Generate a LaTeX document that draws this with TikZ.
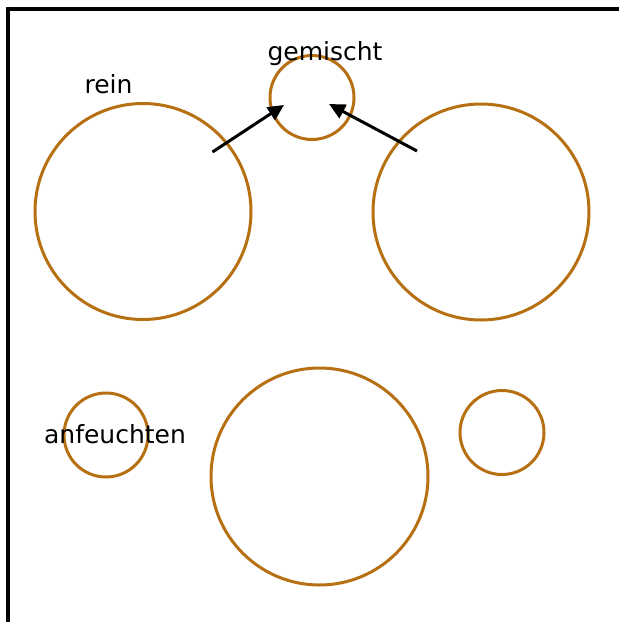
\documentclass[tikz,border=0pt]{standalone}
\usepackage{fontspec}
\setmainfont{DejaVu Sans}
\usetikzlibrary{arrows.meta}
\definecolor{ring}{RGB}{182,112,18}
\tikzset{
  ringc/.style={circle, draw=ring, line width=3pt, inner sep=0pt, minimum size=#1},
  lbl/.style={font=\fontsize{25}{28}\selectfont, anchor=base, inner sep=0pt},
  arr/.style={line width=3pt, -{Triangle[length=16pt,width=15pt]}},
  frame/.style={line width=4pt, draw=black}
}
\begin{document}
\begin{tikzpicture}[x=1pt,y=-1pt]
\useasboundingbox (0,0) rectangle (619,622);
\clip (0,0) rectangle (619,622);
\draw[frame] (7.5,9) rectangle (640,650);
\node[ringc=216pt] (c1) at (143,211.5) {};
\node[ringc=216pt] (c2) at (481,212) {};
\node[ringc=84pt] (mix) at (312,97.5) {};
\node[ringc=84pt] (s1) at (106,435) {};
\node[ringc=217pt] (c3) at (319.5,476.5) {};
\node[ringc=84pt] (s2) at (502,432.5) {};
\node[lbl] (rein) at (108.5,93) {rein};
\node[lbl] (gem) at (325,60) {gemischt};
\node[lbl] (anf) at (115,443) {anfeuchten};
\coordinate (a1) at (212.5,152);
\coordinate (a2) at (417,151);
\draw[arr] (a1) -- (284,105);
\draw[arr] (a2) -- (329,104);
\end{tikzpicture}
\end{document}
